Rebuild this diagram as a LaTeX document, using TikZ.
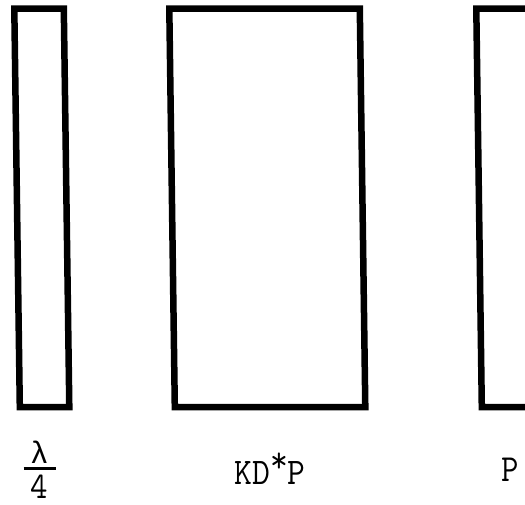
\documentclass[tikz,border=0pt]{standalone}
\usepackage{fontspec}
\newfontfamily\lmono{Liberation Mono}
\begin{document}
\begin{tikzpicture}[x=1pt,y=-1pt,
  plate/.style={draw=black,line width=6.5pt,line join=miter},
  lbl/.style={inner sep=0pt,anchor=base,font=\ttfamily\fontsize{37.6}{40}\selectfont}]
\useasboundingbox (0,0) rectangle (525,504);
\clip (0,0) rectangle (525,504);
% plates (slightly sheared like the scan)
\draw[plate] (14.3,8.5) -- (63.8,8.5) -- (69.3,407) -- (19.8,407) -- cycle;
\draw[plate] (169.3,8.5) -- (359.8,8.5) -- (365.3,407) -- (174.8,407) -- cycle;
\draw[plate] (476.3,8.5) -- (600,8.5) -- (605.5,407) -- (481.8,407) -- cycle;
% labels
\node[inner sep=0pt,anchor=south] (frac) at (39.5,498.5) {\vbox{\offinterlineskip
  \hbox to 32pt{\hss\lmono\fontsize{31}{33}\selectfont λ\hss}
  \kern3.5pt
  \hrule height 3pt width 32pt
  \kern4.5pt
  \hbox to 32pt{\hss\ttfamily\fontsize{37.6}{40}\selectfont\scalebox{0.9}[1]{4}\hss}}};
\node[lbl] (kdp) at (270,484) {\scalebox{0.92}[1]{KD\raisebox{0.3em}{*}P}};
\node[lbl] (p) at (510,481) {\scalebox{0.9}[1.02]{P}};
\end{tikzpicture}
\end{document}
